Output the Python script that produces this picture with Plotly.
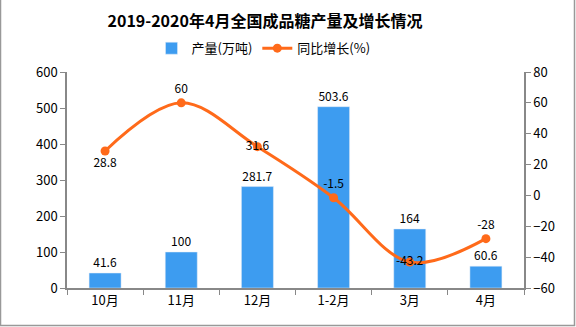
import plotly.graph_objects as go

categories = ["10月", "11月", "12月", "1-2月", "3月", "4月"]
production = [41.6, 100, 281.7, 503.6, 164, 60.6]
growth = [28.8, 60, 31.6, -1.5, -43.2, -28]
growth_pos = ["bottom center", "top center", "middle center", "top center", "middle center", "top center"]

W, H = 576, 327
L, R, T, B = 67, 52, 72, 39
pw, ph = W - L - R, H - T - B

fig = go.Figure()
fig.add_trace(go.Bar(
    x=categories, y=production, name="产量(万吨)",
    marker_color="#3D9CF0", width=0.42,
    text=[str(v) for v in production], textposition="outside",
    textfont=dict(size=12, color="#000000"), cliponaxis=False,
))
fig.add_trace(go.Scatter(
    x=categories, y=growth, name="同比增长(%)", yaxis="y2",
    mode="lines+markers+text",
    line=dict(color="#FF6A1A", width=3, shape="spline", smoothing=1.0),
    marker=dict(color="#FF6A1A", size=9),
    text=[str(v) for v in growth], textposition=growth_pos,
    textfont=dict(size=12, color="#000000"), cliponaxis=False,
))

axis_font = dict(size=13, color="#000000")
fig.update_layout(
    width=W, height=H,
    margin=dict(l=L, r=R, t=T, b=B),
    paper_bgcolor="white", plot_bgcolor="white",
    font=dict(family="Noto Sans CJK SC", color="#000000"),
    title=dict(text="<b>2019-2020年4月全国成品糖产量及增长情况</b>",
               x=0.46, xanchor="center", y=0.935, yanchor="middle",
               font=dict(size=16, color="#000000")),
    legend=dict(orientation="h", x=0.43, xanchor="center", y=1.11, yanchor="middle",
                font=dict(size=13, color="#000000"), bgcolor="rgba(0,0,0,0)"),
    showlegend=True,
    bargap=0.5,
    xaxis=dict(showline=True, linecolor="#888888", linewidth=1.5,
               ticks="outside", ticklen=5, tickcolor="#888888",
               tickson="boundaries", tickfont=axis_font, showgrid=False),
    yaxis=dict(range=[0, 600], dtick=100, showline=True, linecolor="#888888", linewidth=1.5,
               ticks="outside", ticklen=5, tickcolor="#888888",
               tickfont=axis_font, showgrid=False, zeroline=False),
    yaxis2=dict(range=[-60, 80], dtick=20, overlaying="y", side="right",
                showline=True, linecolor="#888888", linewidth=1.5,
                ticks="outside", ticklen=5, tickcolor="#888888",
                tickfont=axis_font, showgrid=False, zeroline=False),
    shapes=[dict(type="rect", xref="paper", yref="paper",
                 x0=(0.5 - L) / pw, x1=(W - 1.5 - L) / pw,
                 y0=-(B - 1.5) / ph, y1=(H - B + 5) / ph,
                 line=dict(color="#999999", width=1.5))],
)

fig.write_html("out.html")
